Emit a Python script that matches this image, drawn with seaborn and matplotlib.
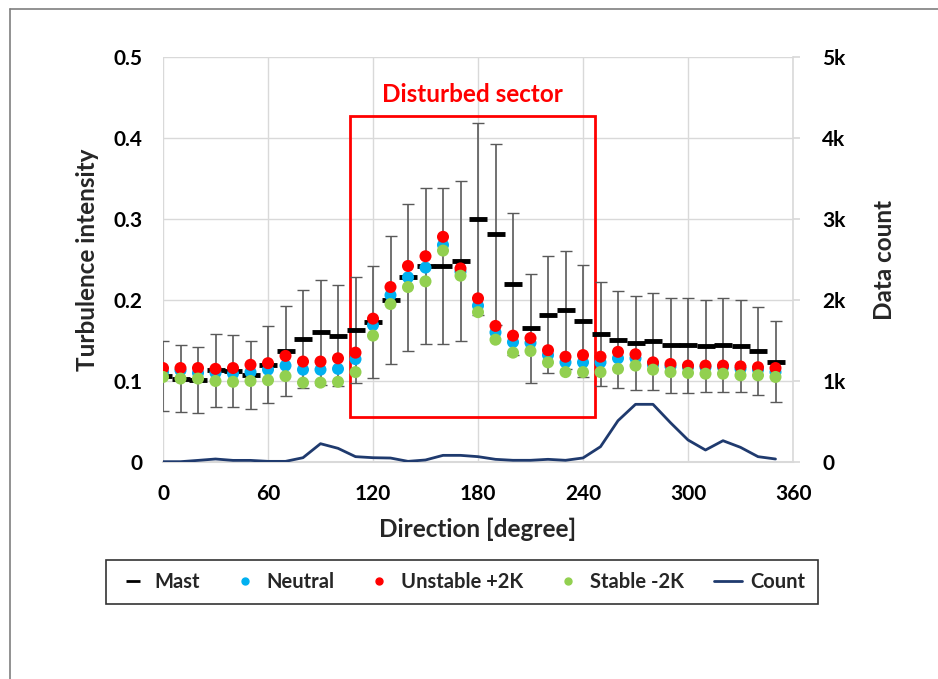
import numpy as np
import pandas as pd
import matplotlib
matplotlib.use("Agg")
import matplotlib.pyplot as plt
import matplotlib.patches as mpatches
from matplotlib.lines import Line2D
import seaborn as sns

direction = list(range(0, 360, 10))
mast = [0.106, 0.103, 0.101, 0.113, 0.112, 0.108, 0.120, 0.137, 0.152, 0.160, 0.156, 0.163,
        0.173, 0.200, 0.228, 0.242, 0.242, 0.248, 0.300, 0.281, 0.220, 0.165, 0.182, 0.188,
        0.174, 0.158, 0.151, 0.147, 0.149, 0.144, 0.144, 0.143, 0.144, 0.143, 0.137, 0.124]
mast_std = [0.043, 0.0415, 0.0405, 0.0455, 0.0445, 0.042, 0.0475, 0.056, 0.0605, 0.065, 0.062, 0.065,
            0.069, 0.079, 0.0905, 0.0965, 0.096, 0.099, 0.119, 0.112, 0.0875, 0.067, 0.0725, 0.073,
            0.0695, 0.064, 0.060, 0.0585, 0.0595, 0.0585, 0.0585, 0.057, 0.058, 0.057, 0.0545, 0.0495]
neutral = [0.111, 0.113, 0.110, 0.110, 0.109, 0.111, 0.114, 0.119, 0.114, 0.114, 0.115, 0.127,
           0.169, 0.206, 0.228, 0.240, 0.268, 0.235, 0.193, 0.160, 0.148, 0.147, 0.132, 0.123,
           0.123, 0.123, 0.128, 0.128, 0.120, 0.118, 0.117, 0.117, 0.117, 0.115, 0.114, 0.111]
unstable = [0.116, 0.116, 0.116, 0.115, 0.116, 0.120, 0.122, 0.131, 0.124, 0.124, 0.128, 0.135,
            0.177, 0.216, 0.242, 0.254, 0.278, 0.239, 0.202, 0.168, 0.156, 0.153, 0.138, 0.130,
            0.132, 0.130, 0.136, 0.133, 0.123, 0.121, 0.119, 0.119, 0.119, 0.118, 0.117, 0.116]
stable = [0.105, 0.103, 0.103, 0.100, 0.099, 0.100, 0.101, 0.106, 0.098, 0.098, 0.099, 0.111,
          0.156, 0.195, 0.216, 0.223, 0.261, 0.230, 0.185, 0.151, 0.135, 0.137, 0.123, 0.111,
          0.111, 0.111, 0.115, 0.119, 0.114, 0.111, 0.110, 0.109, 0.109, 0.107, 0.107, 0.105]
count = [4, 4, 20, 37, 20, 20, 8, 8, 53, 226, 169, 66, 53, 49, 8, 25, 82, 82, 66, 33, 21, 21, 33, 21,
         50, 189, 510, 712, 712, 485, 272, 148, 263, 181, 66, 37]

x_ticks = [0, 60, 120, 180, 240, 300, 360]
y_ticks = [0, 0.1, 0.2, 0.3, 0.4, 0.5]
y_tick_labels = ["0", "0.1", "0.2", "0.3", "0.4", "0.5"]
count_ticks = [0, 1000, 2000, 3000, 4000, 5000]
count_tick_labels = ["0", "1k", "2k", "3k", "4k", "5k"]

sns.set_theme(style="white")
plt.rcParams["font.family"] = ["Lato", "DejaVu Sans"]
plt.rcParams["font.weight"] = "bold"

df = pd.DataFrame({"direction": direction, "mast": mast, "std": mast_std,
                   "Neutral": neutral, "Unstable +2K": unstable,
                   "Stable -2K": stable, "count": count})

W, H = 938, 679
fig = plt.figure(figsize=(W / 100, H / 100), dpi=100)
ax = fig.add_axes([163 / W, 1 - 462 / H, 630 / W, 405 / H])

ax.set_xlim(0, 360)
ax.set_ylim(0, 0.5)
ax.set_xticks(x_ticks)
ax.set_yticks(y_ticks)
ax.set_yticklabels(y_tick_labels)
ax.grid(True, color="#D9D9D9", lw=1)
ax.set_axisbelow(True)
for s in ax.spines.values():
    s.set_visible(False)
ax.spines["bottom"].set_visible(True)
ax.spines["bottom"].set_color("#D9D9D9")
ax.spines["bottom"].set_linewidth(1.5)
ax.tick_params(axis="both", length=0, labelsize=15, colors="black")
ax.tick_params(axis="y", pad=15)
ax.tick_params(axis="x", pad=16)
for lab in ax.get_xticklabels() + ax.get_yticklabels():
    lab.set_fontweight("bold")

# Disturbed sector box
rect = mpatches.Rectangle((107, 0.0556), 140, 0.3714, fill=False, edgecolor="#FF0000", lw=2, zorder=2)
ax.add_patch(rect)
ax.text(177, 0.454, "Disturbed sector", color="#FF0000", fontsize=17.5, fontweight="bold",
        ha="center", va="center")

# Mast error bars and markers
ax.errorbar(df["direction"], df["mast"], yerr=df["std"], fmt="none",
            ecolor="#595959", elinewidth=1.2, capsize=4, capthick=1.0, zorder=3)
ax.plot(df["direction"], df["mast"], linestyle="none", marker="_", color="black",
        markersize=13, markeredgewidth=3.5, zorder=3.5)

colors = {"Neutral": "#00B0F0", "Unstable +2K": "#FF0000", "Stable -2K": "#92D050"}
for name in ["Neutral", "Unstable +2K", "Stable -2K"]:
    sns.scatterplot(data=df, x="direction", y=name, ax=ax, color=colors[name], s=75,
                    edgecolor="none", zorder=4, legend=False)

ax.set_xlabel("Direction [degree]", fontsize=17.5, fontweight="bold", labelpad=10)
ax.set_ylabel("Turbulence intensity", fontsize=17.5, fontweight="bold", labelpad=10)

ax2 = ax.twinx()
sns.lineplot(data=df, x="direction", y="count", ax=ax2, color="#1F3A6E", lw=2, legend=False)
ax2.set_ylim(0, 5000)
ax2.set_xlim(0, 360)
ax2.set_yticks(count_ticks)
ax2.set_yticklabels(count_tick_labels)
for s in ax2.spines.values():
    s.set_visible(False)
ax2.spines["right"].set_visible(True)
ax2.spines["right"].set_color("#D9D9D9")
ax2.spines["right"].set_linewidth(1.2)
ax2.tick_params(axis="y", length=5, color="#D9D9D9", labelsize=15, pad=16, labelcolor="black")
for lab in ax2.get_yticklabels():
    lab.set_fontweight("bold")
ax2.set_ylabel("Data count", fontsize=17.5, fontweight="bold", labelpad=20)
ax2.set_xlabel("")
ax2.grid(False)

handles = [
    Line2D([], [], marker="_", color="black", linestyle="none", markersize=10, markeredgewidth=2),
    Line2D([], [], marker="o", color="#00B0F0", linestyle="none", markersize=5),
    Line2D([], [], marker="o", color="#FF0000", linestyle="none", markersize=5),
    Line2D([], [], marker="o", color="#92D050", linestyle="none", markersize=5),
    Line2D([], [], color="#1F3A6E", lw=2),
]
labels = ["Mast", "Neutral", "Unstable +2K", "Stable -2K", "Count"]
leg = fig.legend(handles, labels, loc="center", bbox_to_anchor=(462 / W, 1 - 582 / H), ncol=5,
                 frameon=True, fancybox=False, edgecolor="black",
                 prop={"weight": "bold", "size": 14.5}, handlelength=1.4, columnspacing=1.5,
                 handletextpad=0.4, borderpad=0.6, borderaxespad=0)
leg.get_frame().set_linewidth(1.2)

# outer frame (left and top edges)
fig.add_artist(Line2D([10 / W, 10 / W], [0, 1 - 9 / H], color="#7F7F7F", lw=1.2))
fig.add_artist(Line2D([10 / W, 1], [1 - 9 / H, 1 - 9 / H], color="#7F7F7F", lw=1.2))

fig.savefig("out.png", dpi=100)
